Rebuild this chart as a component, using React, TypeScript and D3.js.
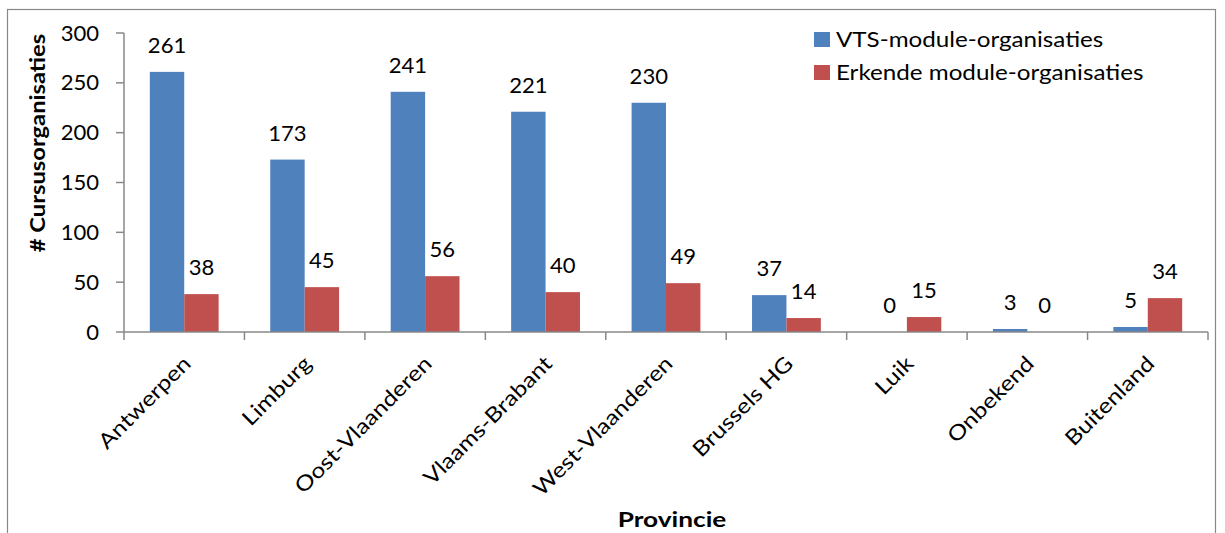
import React from "react";
import * as d3 from "d3";

const categories = [
  "Antwerpen",
  "Limburg",
  "Oost-Vlaanderen",
  "Vlaams-Brabant",
  "West-Vlaanderen",
  "Brussels HG",
  "Luik",
  "Onbekend",
  "Buitenland",
];
const vtsValues = [261, 173, 241, 221, 230, 37, 0, 3, 5];
const erkendeValues = [38, 45, 56, 40, 49, 14, 15, 0, 34];
const seriesNames = ["VTS-module-organisaties", "Erkende module-organisaties"];
const seriesColors = ["#4F81BD", "#C0504D"];
const yTicks = [0, 50, 100, 150, 200, 250, 300];
const yTitle = "# Cursusorganisaties";
const xTitle = "Provincie";

const W = 1225;
const H = 533;
const FONT = "Lato, 'Open Sans', sans-serif";
const AXIS = "#888888";
const SX_NUM = 1.05;
const SX_TXT = 1.18;
const SX_CAT = 1.17;
const SX_YT = 1.13;

export default function App() {
  const x = d3.scaleBand<string>().domain(categories).range([124, 1208]).padding(0);
  const y = d3.scaleLinear().domain([0, 300]).range([332, 33]);
  const bw = x.bandwidth();
  const barW = bw / 3.5;
  const pad = (bw - 2 * barW) / 2;
  const series = [vtsValues, erkendeValues];

  return (
    <svg
      width={W}
      height={H}
      style={{ position: "absolute", left: 0, top: 0, background: "#fff" }}
      fontFamily={FONT}
    >
      <rect x={7.5} y={9.5} width={1208} height={600} fill="#fff" stroke={AXIS} strokeWidth={1.2} />
      {/* bars */}
      {series.map((vals, si) =>
        vals.map((v, i) => {
          const bx = (x(categories[i]) as number) + pad + si * barW;
          return (
            <rect
              key={`b${si}-${i}`}
              x={bx}
              y={y(v)}
              width={barW}
              height={y(0) - y(v)}
              fill={seriesColors[si]}
            />
          );
        })
      )}
      {/* value labels */}
      {series.map((vals, si) =>
        vals.map((v, i) => {
          const cx = (x(categories[i]) as number) + pad + si * barW + barW / 2;
          return (
            <g key={`l${si}-${i}`} transform={`translate(${cx},${y(v) - 19}) scale(${SX_NUM},1)`}>
              <text x={0} y={0} textAnchor="middle" fontSize={21} fill="#000">
                {v}
              </text>
            </g>
          );
        })
      )}
      {/* y axis */}
      <line x1={124} x2={124} y1={y(300)} y2={y(0)} stroke={AXIS} strokeWidth={1.5} />
      {yTicks.map((t) => (
        <g key={`yt${t}`}>
          <line x1={116} x2={124} y1={y(t)} y2={y(t)} stroke={AXIS} strokeWidth={1.5} />
          <g transform={`translate(99,${y(t)}) scale(${SX_NUM},1)`}>
            <text x={0} y={0} dy="0.36em" textAnchor="end" fontSize={21} fill="#000">
              {t}
            </text>
          </g>
        </g>
      ))}
      {/* x axis */}
      <line x1={124} x2={1208} y1={y(0)} y2={y(0)} stroke={AXIS} strokeWidth={1.5} />
      {[...categories.map((c) => x(c) as number), 1208].map((px, i) => (
        <line key={`xt${i}`} x1={px} x2={px} y1={y(0)} y2={y(0) + 8} stroke={AXIS} strokeWidth={1.5} />
      ))}
      {categories.map((c) => {
        const cx = (x(c) as number) + bw / 2 + 8;
        const cy = 365;
        return (
          <g key={`xl${c}`} transform={`translate(${cx},${cy}) rotate(-45) scale(${SX_CAT},1)`}>
            <text x={0} y={0} textAnchor="end" fontSize={21} fill="#000">
              {c}
            </text>
          </g>
        );
      })}
      {/* axis titles */}
      <g transform={`translate(45, 143) rotate(-90) scale(${SX_YT},1)`}>
        <text x={0} y={0} textAnchor="middle" fontSize={21} fontWeight="bold" fill="#000">
          {yTitle}
        </text>
      </g>
      <g transform={`translate(672, 527) scale(1.25,1)`}>
        <text x={0} y={0} textAnchor="middle" fontSize={21} fontWeight="bold" fill="#000">
          {xTitle}
        </text>
      </g>
      {/* legend */}
      {seriesNames.map((n, i) => (
        <g key={`lg${i}`}>
          <rect x={814} y={32 + i * 33} width={16} height={15} fill={seriesColors[i]} />
          <g transform={`translate(836,${40 + i * 33}) scale(${SX_TXT},1)`}>
            <text x={0} y={0} dy="0.36em" fontSize={20.5} fill="#000">
              {n}
            </text>
          </g>
        </g>
      ))}
    </svg>
  );
}
